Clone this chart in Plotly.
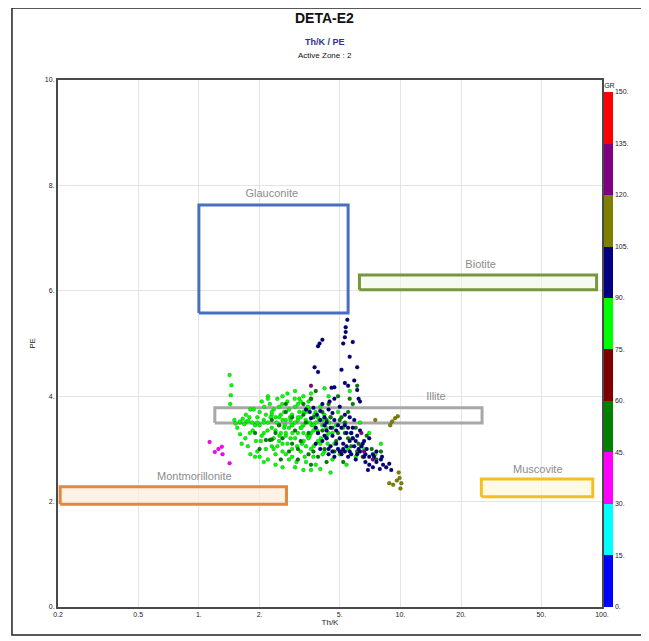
import math
import plotly.graph_objects as go

# ---------------- data ----------------
# GR class centres
GR_LIME, GR_DKGREEN, GR_NAVY, GR_OLIVE, GR_PURPLE, GR_MAGENTA = 82, 52, 97, 112, 127, 38

lime_thk = [1.42,1.45,1.44,1.43,1.50,1.60,1.65,1.72,1.78,1.60,1.70,1.75,1.80,1.85,1.90,1.92,1.95,2.0,2.05,2.1,
            2.1,2.15,2.2,2.25,2.3,2.3,2.35,2.4,2.45,2.5,2.5,2.55,2.6,2.65,2.7,2.7,2.75,2.8,2.85,2.9,
            2.9,3.0,3.0,3.05,3.1,3.15,3.2,3.25,3.3,3.35,3.4,3.45,3.5,3.55,3.6,3.7,3.75,3.8,3.9,4.0,
            4.1,4.2,4.3,4.4,4.5,4.6,4.7,4.9,5.0,5.2,5.4,5.6,5.8,6.0,6.3,6.6,7.0,7.5,8.0,
            2.2,2.4,2.6,2.8,2.5,2.7,2.9,3.1,3.3,2.3,2.0,2.45,2.65,3.0,3.2,2.85,2.55,2.35,2.15,1.95,
            2.05,2.6,3.4,3.6,3.8,3.5,3.1,2.75,3.0,3.3,3.6,4.2,2.2,1.8,2.4,2.9,3.2,3.7,4.0,4.4,
            4.8,5.5,2.1,2.6,3.3,3.6,4.0,4.5,1.52,1.60,1.68,1.76,1.84]
lime_pe = [4.40,4.21,4.02,3.85,3.55,3.50,3.57,3.52,3.60,3.28,3.20,3.05,2.90,3.35,3.45,3.15,2.95,3.7,3.9,3.55,
           3.3,3.0,2.8,3.85,3.65,3.4,3.2,3.6,3.95,3.8,3.45,3.3,3.1,3.7,3.55,2.9,3.9,3.4,3.2,3.65,
           3.0,3.8,3.5,2.75,3.3,3.95,3.6,3.1,3.45,2.85,3.7,3.25,3.9,3.5,3.0,3.35,3.65,2.7,3.15,3.8,
           3.45,2.95,3.25,4.0,3.6,2.8,3.1,3.7,2.9,3.4,2.7,4.1,3.2,2.85,3.5,3.0,3.3,2.9,3.1,
           3.5,3.35,3.55,3.75,3.15,3.25,3.45,3.55,3.7,3.05,3.45,3.05,3.4,3.2,3.4,3.55,3.65,3.75,3.65,3.6,
           3.25,2.95,3.05,3.3,3.5,3.75,3.85,4.05,4.1,4.0,4.05,4.15,4.0,3.75,2.9,2.85,2.95,2.85,3.1,3.3,
           3.45,3.0,2.75,2.65,2.6,2.6,2.62,2.55,3.48,3.52,3.47,3.53,3.50]
lime2_thk = [1.55,1.63,1.71,1.79,1.87,1.95,2.03,2.11,2.19,2.27,2.35,2.43,2.51,2.59,2.67,2.75,2.83,2.91,2.99,3.07,
             3.15,3.23,3.31,3.39,3.47,3.55,3.63,3.71,3.79,3.87,3.95,4.03,4.11,4.19,4.27,4.35,4.43,
             2.0,2.2,2.4,2.6,2.8,3.0,3.2,3.4,3.6,
             1.9,2.1,2.3,2.5,2.7,2.9,3.1,3.3,3.5,3.7,3.9,4.1,4.3,4.6]
lime2_pe = [3.4,3.1,3.65,3.3,3.75,3.5,3.15,3.8,3.35,3.6,3.0,3.5,3.25,3.85,3.45,3.1,3.6,3.3,3.95,3.05,
            3.7,3.4,3.15,3.55,3.8,3.25,3.45,3.05,3.7,3.35,3.55,3.2,2.9,3.65,3.4,3.1,3.5,
            2.85,3.95,2.7,4.0,2.8,2.65,3.9,2.75,3.95,
            2.85,3.5,3.7,3.6,3.3,3.45,3.6,3.3,3.2,3.45,3.6,3.55,3.2,3.3]

dkgreen_thk = [2.4,2.6,2.15,2.25,2.3,2.9,3.0,3.2,3.4,3.5,3.7,3.9,4.1,4.2,4.4,4.6,4.8,5.0,5.1,5.3,
               5.5,5.7,6.0,6.2,6.5,6.8,7.2,7.6,8.0,2.8,3.1,2.55,3.6,4.3,5.2,2.7,3.3,5.8,6.1,5.6,
               2.0,1.9,4.9,3.8,
               2.5,2.9,3.3,3.7,4.1,4.5,4.9,5.3,5.7,6.1,2.7,3.1,3.5,3.9,4.3,4.7,5.1,5.5,2.3,3.6]
dkgreen_pe = [3.3,3.2,3.17,3.17,3.18,3.6,3.35,3.15,3.5,2.9,3.6,3.3,3.7,3.0,3.85,3.4,3.15,3.55,2.95,3.3,
              3.7,3.05,3.4,3.1,2.85,3.25,3.0,2.8,2.95,2.95,2.8,2.8,2.7,2.75,2.75,3.85,3.85,3.85,4.2,3.95,
              3.0,3.3,4.0,4.1,
              3.45,3.1,3.65,2.95,3.35,3.6,3.3,3.5,3.3,2.95,3.7,3.0,3.3,2.85,3.55,2.95,3.6,3.2,3.55,3.95]

navy_thk = [5.45,5.35,5.35,5.3,5.2,4.1,3.97,3.9,5.8,5.6,3.75,3.9,5.1,6.1,5.3,5.5,4.7,4.55,6.1,6.2,6.3,5.9,
            3.4,3.55,3.7,3.85,4.0,4.2,4.4,4.6,3.6,4.1,4.45,4.7,4.3,5.0,5.3,5.6,
            3.9,4.1,4.3,4.5,4.6,4.8,4.9,5.0,5.2,5.3,5.4,5.6,5.7,5.9,6.1,6.3,6.5,4.4,4.7,5.1,5.8,6.6,
            4.0,4.2,3.8,6.0,5.5,6.8,7.0,7.3,
            6.7,7.0,7.3,7.6,7.9,8.2,8.5,8.8,9.0,7.4,8.0,6.9,
            4.0,4.3,4.6,4.9,5.2,5.5,5.8,6.1,6.4,6.7,7.0,4.2,4.5,4.8,5.1,5.4,5.7,6.0,6.3,6.6,
            4.4,4.7,5.0,5.3,5.6,5.9,6.2,7.6,8.1,3.8]
navy_pe = [5.45,5.31,5.22,5.12,5.0,5.07,5.0,4.95,5.03,4.75,4.55,4.46,4.5,4.55,4.25,4.2,4.17,4.16,4.12,3.95,3.9,4.3,
           3.75,3.7,3.78,3.65,3.72,3.6,3.75,3.68,3.58,3.85,3.9,3.95,3.5,3.8,3.65,3.6,
           3.3,3.15,3.35,3.05,3.25,3.35,3.0,3.2,3.1,2.95,3.3,3.15,2.9,3.05,3.25,2.95,3.1,2.9,2.85,3.4,3.4,2.85,
           3.0,3.45,3.1,2.8,2.85,3.0,3.2,2.9,
           2.75,2.7,2.65,2.75,2.62,2.7,2.65,2.72,2.6,2.85,2.8,2.6,
           3.55,3.2,2.95,3.45,3.0,3.4,3.2,2.9,3.05,2.9,2.85,3.25,3.4,3.1,2.9,3.05,3.3,3.15,3.35,3.15,
           3.0,3.55,2.95,3.45,2.95,3.55,3.0,2.95,2.85,3.4]

olive_thk = [9.1,9.4,9.7,8.9,9.9,10.1,10.0,9.8,8.8,9.2,9.6,7.5]
olive_pe = [3.52,3.58,3.62,3.45,2.45,2.35,2.25,2.55,2.35,2.32,2.4,3.55]

purple_thk = [6.6,7.3,3.6,6.4]
purple_pe = [2.95,2.8,4.2,3.3]

magenta_thk = [1.13,1.20,1.30,1.31,1.42,1.25]
magenta_pe = [3.13,2.94,3.04,2.90,2.73,3.0]

# mineral zones: name, Th/K min, Th/K max, PE min, PE max
zone_names = ["Glauconite", "Biotite", "Illite", "Montmorillonite", "Muscovite"]
zone_thk_min = [1.0, 6.26, 1.2, 0.205, 25.2]
zone_thk_max = [5.5, 94.0, 25.4, 2.72, 90.0]
zone_pe_min = [5.58, 6.02, 3.49, 1.95, 2.09]
zone_pe_max = [7.63, 6.30, 3.78, 2.28, 2.43]
zone_label_thk = [2.3, 25.0, 15.0, 0.95, 48.0]
zone_label_pe = [7.84, 6.49, 3.98, 2.47, 2.60]
zone_line = ["#4a6ec2", "#78963e", "#a8a8a8", "#e2873e", "#f2c020"]
zone_fill = ["rgba(255,255,255,0)", "rgba(240,246,230,0.6)", "rgba(255,255,255,0)",
             "rgba(253,236,220,0.7)", "rgba(255,248,220,0.7)"]

x_tickvals = [0.2, 0.5, 1, 2, 5, 10, 20, 50, 100]
x_ticktext = ["0.2", "0.5", "1.", "2.", "5.", "10.", "20.", "50.", "100."]
y_tickvals = [0, 2, 4, 6, 8, 10]
y_ticktext = ["0.", "2.", "4.", "6.", "8.", "10."]
gr_tickvals = [0, 15, 30, 45, 60, 75, 90, 105, 120, 135, 150]
gr_ticktext = [f"{v}." for v in gr_tickvals]
gr_colors = ["#0000ff", "#00ffff", "#ff00ff", "#008000", "#800000",
             "#00ff00", "#000080", "#808000", "#800080", "#ff0000"]

# ---------------- figure ----------------
colorscale = []
n = len(gr_colors)
for i, c in enumerate(gr_colors):
    colorscale.append([i / n, c])
    colorscale.append([(i + 1) / n, c])

fig = go.Figure()

# zones
for i, name in enumerate(zone_names):
    x0, x1 = zone_thk_min[i], zone_thk_max[i]
    y0, y1 = zone_pe_min[i], zone_pe_max[i]
    fig.add_trace(go.Scatter(
        x=[x0, x1, x1, x0, x0], y=[y0, y0, y1, y1, y0], mode="lines",
        line=dict(color=zone_line[i], width=3), fill="toself", fillcolor=zone_fill[i],
        hoverinfo="skip", showlegend=False))
    fig.add_trace(go.Scatter(
        x=[zone_label_thk[i]], y=[zone_label_pe[i]], mode="text", text=[name],
        textfont=dict(family="Liberation Sans, Arial", size=11, color="#8c8c8c"),
        hoverinfo="skip", showlegend=False))

all_thk = lime_thk + lime2_thk + dkgreen_thk + navy_thk + olive_thk + purple_thk + magenta_thk
all_pe = lime_pe + lime2_pe + dkgreen_pe + navy_pe + olive_pe + purple_pe + magenta_pe
all_gr = ([GR_LIME] * (len(lime_thk) + len(lime2_thk)) + [GR_DKGREEN] * len(dkgreen_thk)
          + [GR_NAVY] * len(navy_thk) + [GR_OLIVE] * len(olive_thk)
          + [GR_PURPLE] * len(purple_thk) + [GR_MAGENTA] * len(magenta_thk))

fig.add_trace(go.Scatter(
    x=all_thk, y=all_pe, mode="markers", showlegend=False,
    marker=dict(size=4, color=all_gr, cmin=0, cmax=150, colorscale=colorscale,
                line=dict(width=0.5, color="rgba(0,0,0,0.3)"),
                showscale=True,
                colorbar=dict(x=1.004, xanchor="left", y=0.5, yanchor="middle", len=1, lenmode="fraction",
                              thickness=9, thicknessmode="pixels", xpad=0, ypad=0,
                              outlinewidth=0, tickvals=gr_tickvals, ticktext=gr_ticktext,
                              ticks="", tickfont=dict(family="Liberation Sans, Arial", size=7, color="#222"),
                              title=dict(text="GR", side="top",
                                         font=dict(family="Liberation Sans, Arial", size=7, color="#222"))))))

fig.update_xaxes(type="log", range=[math.log10(0.2), 2], tickvals=x_tickvals, ticktext=x_ticktext,
                 showgrid=True, gridcolor="#e4e4e4", gridwidth=1, zeroline=False,
                 showline=True, linecolor="#4a4a4a", linewidth=2, mirror=True, ticks="",
                 tickfont=dict(family="Liberation Sans, Arial", size=7, color="#222"),
                 title=dict(text="Th/K", standoff=2, font=dict(family="Liberation Sans, Arial", size=8, color="#222")))
fig.update_yaxes(range=[0, 10], tickvals=y_tickvals, ticktext=y_ticktext,
                 showgrid=True, gridcolor="#e4e4e4", gridwidth=1, zeroline=False,
                 showline=True, linecolor="#4a4a4a", linewidth=2, mirror=True, ticks="",
                 tickfont=dict(family="Liberation Sans, Arial", size=7, color="#222"),
                 title=dict(text="PE", standoff=8, font=dict(family="Liberation Sans, Arial", size=8, color="#222")))

fig.add_annotation(text="<b>DETA-E2</b>", x=0.49, y=1.118, xref="paper", yref="paper", showarrow=False,
                   yanchor="middle", font=dict(family="Liberation Sans, Arial", size=14, color="#111"))
fig.add_annotation(text="<b>Th/K / PE</b>", x=0.49, y=1.072, xref="paper", yref="paper", showarrow=False,
                   yanchor="middle", font=dict(family="Liberation Sans, Arial", size=9, color="#2e2e96"))
fig.add_annotation(text="Active Zone : 2", x=0.49, y=1.046, xref="paper", yref="paper", showarrow=False,
                   yanchor="middle", font=dict(family="Liberation Sans, Arial", size=8, color="#111"))

# outer frame
fig.add_shape(type="rect", xref="paper", yref="paper", x0=-0.0846, x1=1.0754, y0=-0.0531, y1=1.1366,
              line=dict(color="#222", width=1.5), layer="below")

# the page adds an 8px body margin, so the figure origin sits at (8, 8) in the window
fig.update_layout(width=641, height=633, margin=dict(l=50, r=47, t=72, b=34),
                  paper_bgcolor="white", plot_bgcolor="white",
                  font=dict(family="Liberation Sans, Arial"))

fig.write_html("out.html")
